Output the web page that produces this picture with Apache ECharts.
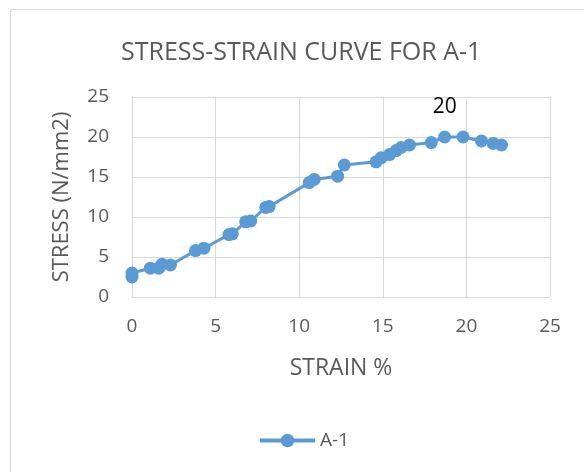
<!DOCTYPE html>
<html>
<head>
<meta charset="utf-8">
<script src="https://cdn.jsdelivr.net/npm/echarts@6/dist/echarts.min.js"></script>
<style>
    html, body {margin: 0; padding: 0; background: #fff;}
    #chart {width: 584px; height: 472px;}
</style>
</head>
<body>
<div id="chart"></div>
<script>
// strain (%) and stress (N/mm2)
var strain = [0, 0, 1.1, 1.6, 1.8, 2.3, 3.8, 4.3, 5.8, 6.0, 6.8, 7.1, 8.0, 8.2, 10.6, 10.9, 12.3, 12.7,
    14.6, 14.9, 15.4, 15.8, 16.1, 16.6, 17.9, 18.7, 19.8, 20.9, 21.6, 22.1];
var stress = [2.5, 3.0, 3.6, 3.6, 4.1, 4.0, 5.8, 6.1, 7.8, 7.9, 9.4, 9.5, 11.2, 11.3, 14.3, 14.7, 15.1, 16.5,
    16.9, 17.4, 17.8, 18.3, 18.7, 19.0, 19.3, 20.0, 20.0, 19.5, 19.2, 19.0];
var labelIndex = 25; // point that carries the "20" data label

var font = 'Open Sans';
var grey = '#595959';

var seriesData = strain.map(function (x, i) {
    var item = {value: [x, stress[i]]};
    if (i === labelIndex) {
        item.label = {
            show: true,
            position: 'top',
            distance: 13,
            color: '#000',
            fontSize: 21,
            fontFamily: font,
            formatter: function (p) { return p.value[1]; }
        };
    }
    return item;
});

var chart = echarts.init(document.getElementById('chart'));
chart.setOption({
    animation: false,
    backgroundColor: '#fff',
    graphic: [{
        type: 'rect',
        shape: {x: 10.5, y: 9.5, width: 600, height: 500},
        style: {fill: 'none', stroke: '#d9d9d9', lineWidth: 1},
        silent: true
    }],
    title: {
        text: 'STRESS-STRAIN CURVE FOR A-1',
        left: 116,
        top: 35,
        textStyle: {fontFamily: font, fontSize: 25, fontWeight: 'normal', color: grey}
    },
    legend: {
        top: 426,
        left: 253,
        itemWidth: 55,
        itemHeight: 17,
        itemGap: 4,
        lineStyle: {width: 4},
        textStyle: {fontFamily: font, fontSize: 19, color: grey}
    },
    grid: {left: 132, right: 34, top: 97, bottom: 175},
    xAxis: {
        type: 'value',
        min: 0,
        max: 25,
        interval: 5,
        name: 'STRAIN %',
        nameLocation: 'middle',
        nameGap: 60,
        nameTextStyle: {fontFamily: font, fontSize: 23, color: grey},
        axisLine: {show: true, lineStyle: {color: '#d9d9d9'}},
        axisTick: {show: false},
        axisLabel: {margin: 20, fontFamily: font, fontSize: 19, color: grey},
        splitLine: {show: true, lineStyle: {color: '#d9d9d9', width: 1}}
    },
    yAxis: {
        type: 'value',
        min: 0,
        max: 25,
        interval: 5,
        name: 'STRESS (N/mm2)',
        nameLocation: 'middle',
        nameGap: 59,
        nameTextStyle: {fontFamily: font, fontSize: 22, color: grey},
        axisLine: {show: true, lineStyle: {color: '#d9d9d9'}},
        axisTick: {show: false},
        axisLabel: {margin: 23, fontFamily: font, fontSize: 19, color: grey},
        splitLine: {show: true, lineStyle: {color: '#d9d9d9', width: 1}}
    },
    series: [{
        name: 'A-1',
        type: 'line',
        data: seriesData,
        symbol: 'circle',
        symbolSize: 13,
        showAllSymbol: true,
        itemStyle: {color: '#5b9bd5'},
        lineStyle: {color: '#5b9bd5', width: 3}
    }]
});
</script>
</body>
</html>
